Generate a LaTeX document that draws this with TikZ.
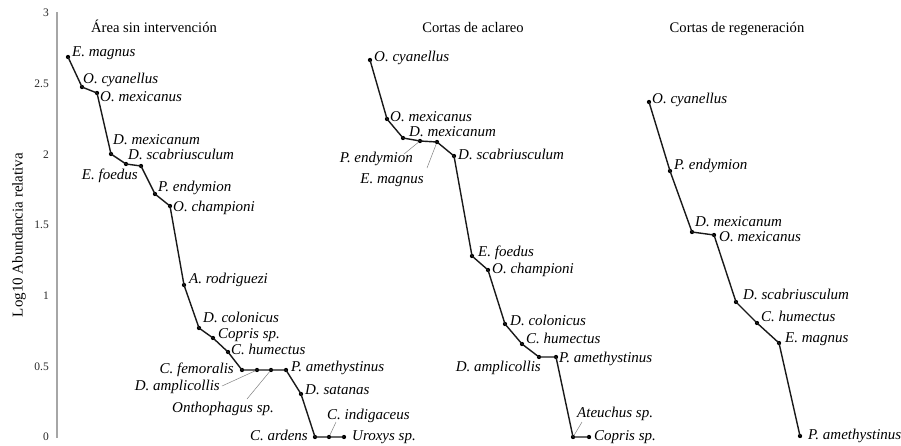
\documentclass[tikz,border=0pt]{standalone}
\usepackage{fontspec}
\setmainfont{Liberation Serif}
\begin{document}
\begin{tikzpicture}[x=1pt,y=-1pt,
  pt/.style={circle,fill=black,inner sep=0pt,minimum size=4.3pt},
  lbl/.style={inner sep=0pt,font=\fontsize{15}{18}\selectfont\itshape},
  lw/.style={lbl,anchor=base west},
  le/.style={lbl,anchor=base east},
  ttl/.style={inner sep=0pt,font=\fontsize{14.6}{18}\selectfont,anchor=base},
  tick/.style={inner sep=0pt,font=\fontsize{11.5}{14}\selectfont,anchor=east,text=black!85},
  curve/.style={line width=1.4pt,black!90},
  leader/.style={line width=0.5pt,black!50},
  axisline/.style={line width=1.5pt,black!35}]
\useasboundingbox (0,0) rectangle (901,445);

% axis
\coordinate (axtop) at (57,12);
\coordinate (axbot) at (57,438);
\draw[axisline] (axtop) -- (axbot);
\foreach \v/\t in {0/0,0.5/0.5,1/1,1.5/1.5,2/2,2.5/2.5,3/3}
  \node[tick] (tk\t) at (49,{437-141.3*\v}) {\t};
\node[inner sep=0pt,rotate=90,font=\fontsize{15}{18}\selectfont] (ylab) at (19,235) {Log10 Abundancia relativa};

% titles
\node[ttl] (t1) at (154,32) {Área sin intervención};
\node[ttl] (t2) at (473,32) {Cortas de aclareo};
\node[ttl] (t3) at (737,32) {Cortas de regeneración};

% ---------- panel 1 ----------
\node[pt] (a0) at (68,57) {};
\node[pt] (a1) at (82,87) {};
\node[pt] (a2) at (97,93) {};
\node[pt] (a3) at (111,154) {};
\node[pt] (a4) at (126,164) {};
\node[pt] (a5) at (141,166) {};
\node[pt] (a6) at (155,194) {};
\node[pt] (a7) at (170,206) {};
\node[pt] (a8) at (184,285) {};
\node[pt] (a9) at (199,328) {};
\node[pt] (a10) at (213,338) {};
\node[pt] (a11) at (228,352) {};
\node[pt] (a12) at (242,370) {};
\node[pt] (a13) at (257,370) {};
\node[pt] (a14) at (271,370) {};
\node[pt] (a15) at (286,370) {};
\node[pt] (a16) at (301,394) {};
\node[pt] (a17) at (315,437) {};
\node[pt] (a18) at (329,437) {};
\node[pt] (a19) at (344,437) {};
\draw[curve] (a0.center) -- (a1.center) -- (a2.center) -- (a3.center) -- (a4.center) -- (a5.center) -- (a6.center) -- (a7.center) -- (a8.center) -- (a9.center) -- (a10.center) -- (a11.center) -- (a12.center) -- (a13.center) -- (a14.center) -- (a15.center) -- (a16.center) -- (a17.center) -- (a18.center) -- (a19.center);

\node[lw] (la0) at (72,56) {E. magnus};
\node[lw] (la1) at (83,83) {O. cyanellus};
\node[lw] (la2) at (100,101) {O. mexicanus};
\node[lw] (la3) at (113,144) {D. mexicanum};
\node[lw] (la5) at (128,159) {D. scabriusculum};
\node[le] (la4) at (138,179) {E. foedus};
\node[lw] (la6) at (158,191) {P. endymion};
\node[lw] (la7) at (173,211) {O. championi};
\node[lw] (la8) at (189,283) {A. rodriguezi};
\node[lw] (la9) at (203,322) {D. colonicus};
\node[lw] (la10) at (218,338) {Copris sp.};
\node[lw] (la11) at (231,354) {C. humectus};
\node[le] (la12) at (234,373) {C. femoralis};
\node[le] (la13) at (220,390) {D. amplicollis};
\node[lw] (la14) at (172,412) {Onthophagus sp.};
\node[lw] (la15) at (291,371) {P. amethystinus};
\node[lw] (la16) at (305,394) {D. satanas};
\node[lw] (la18) at (327,419) {C. indigaceus};
\node[le] (la17) at (308,440) {C. ardens};
\node[lw] (la19) at (352,440) {Uroxys sp.};
\coordinate (ld13) at (222,386);
\coordinate (ld14) at (247,399);
\coordinate (ld18) at (336,422);
\draw[leader] (ld13) -- (a13);
\draw[leader] (ld14) -- (a14);
\draw[leader] (ld18) -- (a18);

% ---------- panel 2 ----------
\node[pt] (b0) at (370,60) {};
\node[pt] (b1) at (387,119) {};
\node[pt] (b2) at (403,138) {};
\node[pt] (b3) at (420,141) {};
\node[pt] (b4) at (437,142) {};
\node[pt] (b5) at (454,156) {};
\node[pt] (b6) at (472,256) {};
\node[pt] (b7) at (488,270) {};
\node[pt] (b8) at (505,324) {};
\node[pt] (b9) at (522,344) {};
\node[pt] (b10) at (539,357) {};
\node[pt] (b11) at (556,357) {};
\node[pt] (b12) at (573,437) {};
\node[pt] (b13) at (589,437) {};
\draw[curve] (b0.center) -- (b1.center) -- (b2.center) -- (b3.center) -- (b4.center) -- (b5.center) -- (b6.center) -- (b7.center) -- (b8.center) -- (b9.center) -- (b10.center) -- (b11.center) -- (b12.center) -- (b13.center);

\node[lw] (lb0) at (374,61) {O. cyanellus};
\node[lw] (lb1) at (390,121) {O. mexicanus};
\node[lw] (lb2) at (409,136) {D. mexicanum};
\node[lw] (lb5) at (458,159) {D. scabriusculum};
\node[le] (lb3) at (413,162) {P. endymion};
\node[le] (lb4) at (424,183) {E. magnus};
\node[lw] (lb6) at (478,256) {E. foedus};
\node[lw] (lb7) at (492,273) {O. championi};
\node[lw] (lb8) at (510,325) {D. colonicus};
\node[lw] (lb9) at (526,343) {C. humectus};
\node[le] (lb10) at (541,371) {D. amplicollis};
\node[lw] (lb11) at (559,362) {P. amethystinus};
\node[lw] (lb12) at (577,417) {Ateuchus sp.};
\node[lw] (lb13) at (594,440) {Copris sp.};
\coordinate (ldb3) at (404,154);
\coordinate (ldb4) at (427,168);
\coordinate (ldb12) at (582,422);
\draw[leader] (ldb3) -- (b3);
\draw[leader] (ldb4) -- (b4);
\draw[leader] (ldb12) -- (b12);

% ---------- panel 3 ----------
\node[pt] (c0) at (649,102) {};
\node[pt] (c1) at (670,171) {};
\node[pt] (c2) at (692,232) {};
\node[pt] (c3) at (714,235) {};
\node[pt] (c4) at (736,302) {};
\node[pt] (c5) at (757,323) {};
\node[pt] (c6) at (779,343) {};
\node[pt] (c7) at (800,436) {};
\draw[curve] (c0.center) -- (c1.center) -- (c2.center) -- (c3.center) -- (c4.center) -- (c5.center) -- (c6.center) -- (c7.center);

\node[lw] (lc0) at (652,103) {O. cyanellus};
\node[lw] (lc1) at (674,169) {P. endymion};
\node[lw] (lc2) at (695,226) {D. mexicanum};
\node[lw] (lc3) at (719,241) {O. mexicanus};
\node[lw] (lc4) at (743,299) {D. scabriusculum};
\node[lw] (lc5) at (761,321) {C. humectus};
\node[lw] (lc6) at (785,342) {E. magnus};
\node[lw] (lc7) at (808,439) {P. amethystinus};
\end{tikzpicture}
\end{document}
